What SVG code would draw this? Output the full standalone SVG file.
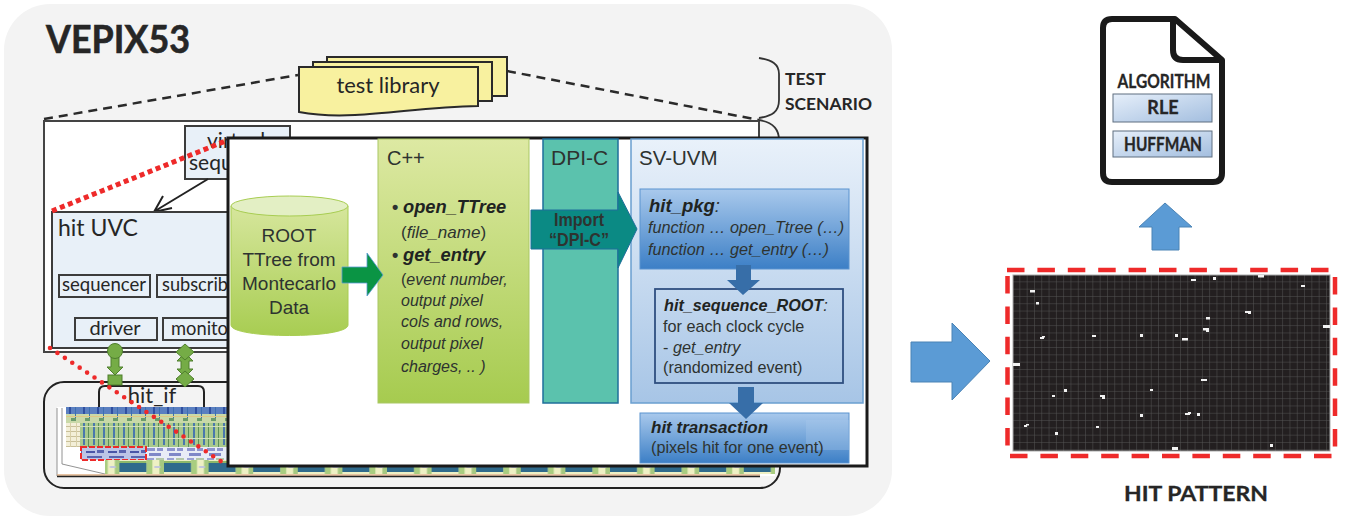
<svg xmlns="http://www.w3.org/2000/svg" width="1352" height="516" viewBox="0 0 1352 516">
<style>
.la{font-family:"Lato","Liberation Sans",sans-serif;fill:#262626}
.ar{font-family:"Liberation Sans",Arial,sans-serif;fill:#2e3330}
.b{font-weight:700}
.i{font-style:italic}
.bi{font-weight:700;font-style:italic;fill:#1f2422}
.m{text-anchor:middle}
.box{fill:#e8f0f8;stroke:#3c3c3c;stroke-width:2}
.sm{fill:none;stroke:#3c3c3c;stroke-width:2}
.sheet{fill:#f8f19f;stroke:#2a2a2a;stroke-width:2}
.grn{fill:#75ac46;stroke:#4f7f2d;stroke-width:1}
.hit{fill:#f2f2f2}
.blue{fill:url(#gBlue);stroke:#5b93cf;stroke-width:1}
.darr{fill:#376ea8}
.bigarr{fill:#5b9bd5;stroke:#4a83b5;stroke-width:1}
.algo{fill:url(#gAlgo);stroke:#5f6f80;stroke-width:1}
</style>
<defs>
<linearGradient id="gC" x1="0" y1="0" x2="0" y2="1"><stop offset="0" stop-color="#dde9a3"/><stop offset="1" stop-color="#a6cb4f"/></linearGradient>
<linearGradient id="gSv" x1="0" y1="0" x2="0" y2="1"><stop offset="0" stop-color="#e9f1fa"/><stop offset="1" stop-color="#a7c5e6"/></linearGradient>
<linearGradient id="gBlue" x1="0" y1="0" x2="0" y2="1"><stop offset="0" stop-color="#a9c9ec"/><stop offset="1" stop-color="#3c7fc6"/></linearGradient>
<linearGradient id="gAlgo" x1="0" y1="0" x2="1" y2="1"><stop offset="0" stop-color="#e6effa"/><stop offset="1" stop-color="#a3bedf"/></linearGradient>
<linearGradient id="gCyl" x1="0" y1="0" x2="0" y2="1"><stop offset="0" stop-color="#d6e69c"/><stop offset="1" stop-color="#a8cd52"/></linearGradient>
<pattern id="pGrid" x="1013" y="275" width="7.3" height="7.3" patternUnits="userSpaceOnUse"><path d="M7.3 0V7.3M0 7.3H7.3" fill="none" stroke="#555" stroke-width="1"/></pattern>
<pattern id="pBand" x="387" y="458" width="44.6" height="16" patternUnits="userSpaceOnUse"><rect width="44.6" height="16" fill="#eef0c4"/><rect x="27" width="6" height="16" fill="#a9cd80"/><rect x="40" width="4.600" height="16" fill="#a5c880"/><rect x="0" y="5" width="27" height="9" fill="#2f6a8c"/><rect x="0" y="3" width="27" height="2" fill="#8cb76a"/><rect x="35" y="8" width="6" height="2" fill="#c3c7dd"/></pattern>
<pattern id="pCols" x="80" y="423" width="10" height="24" patternUnits="userSpaceOnUse"><rect width="10" height="24" fill="#a8c98e"/><rect x="3" width="2" height="22" fill="#4a78ad"/><rect x="8" width="1" height="24" fill="#5d8f58"/><rect y="3" width="10" height="1" fill="#d2e0b8"/><rect y="15" width="10" height="1" fill="#d2e0b8"/></pattern>
<pattern id="pTop" x="66" y="407" width="14" height="16" patternUnits="userSpaceOnUse"><rect width="14" height="16" fill="#c9d9a8"/><rect width="14" height="7" fill="#5a7fc0"/><rect x="3" width="2" height="7" fill="#2f4fa0"/><rect x="9" width="1" height="12" fill="#3c6fb0"/><rect y="9" width="14" height="1" fill="#e1c785"/><rect x="5" y="11" width="5" height="3" fill="#6b9c6c"/></pattern>
<pattern id="pLow" x="146" y="447" width="20" height="15" patternUnits="userSpaceOnUse"><rect width="20" height="15" fill="#e8ecf6"/><rect x="1" y="1" width="8" height="3" fill="#8d94cf"/><rect x="11" y="1" width="6" height="3" fill="#8d94cf"/><rect x="3" y="6" width="12" height="3" fill="#7f88c8"/><rect x="1" y="11" width="7" height="3" fill="#9aa2d4"/><rect x="10" y="11" width="8" height="3" fill="#b4c8a8"/></pattern>
<pattern id="pTan" x="66" y="423" width="6" height="5" patternUnits="userSpaceOnUse"><rect width="6" height="5" fill="#f3efd8"/><rect y="3" width="6" height="1" fill="#c9c09a"/><rect x="4" width="1" height="5" fill="#d8cfa8"/></pattern>
<pattern id="pRed" x="84" y="449" width="22" height="11" patternUnits="userSpaceOnUse"><rect width="22" height="11" fill="#bcc4e6"/><rect x="2" y="2" width="9" height="2" fill="#4a55a8"/><rect x="13" y="1" width="7" height="3" fill="#5a64b0"/><rect x="3" y="7" width="15" height="2" fill="#5a64b0"/></pattern>
</defs>

<rect id="panel" x="4" y="4" width="888" height="512" rx="46" fill="#f3f3f3"/>
<text id="title" class="la b" x="46" y="53" font-size="38" textLength="144" lengthAdjust="spacingAndGlyphs" stroke="#262626" stroke-width="0.6">VEPIX53</text>

<g id="connectors">
<path d="M44 119L298 75M507 71L759 120" fill="none" stroke="#2a2a2a" stroke-width="2.5" stroke-dasharray="9 6"/>
<path d="M759 58C772 60 779 64 779 74V100C779 112 772 116 759 118" fill="none" stroke="#333" stroke-width="1.8"/>
</g>

<g id="test-library">
<rect class="sheet" x="327" y="57" width="180" height="39"/>
<rect class="sheet" x="313" y="62" width="179" height="39"/>
<path class="sheet" d="M299 67H478V106C430 107 395 113 355 115C335 116 315 115 299 112Z"/>
<text class="la m" x="388" y="93" font-size="22" textLength="103" lengthAdjust="spacingAndGlyphs">test library</text>
</g>

<g id="test-scenario-label">
<text class="la b" x="785" y="85" font-size="17.5">TEST</text>
<text class="la b" x="785" y="110" font-size="17.5" textLength="87" lengthAdjust="spacingAndGlyphs">SCENARIO</text>
</g>

<g id="scenario-box">
<rect x="44" y="121" width="715" height="231" fill="#fff" stroke="#444" stroke-width="2"/>
<path d="M759 120C772 122 779 128 779 140" fill="none" stroke="#333" stroke-width="1.8"/>
</g>

<g id="virtual-sequencer">
<rect class="box" x="185" y="126" width="105" height="53"/>
<text class="la" x="207" y="148" font-size="21">virtual</text>
<text class="la" x="189" y="170" font-size="21">sequ</text>
</g>

<g id="connectors-uvc">
<path d="M208 179L155 211M172 208L154 212L163 196" fill="none" stroke="#222" stroke-width="2"/>
</g>

<g id="hit-uvc">
<rect class="box" x="52" y="212" width="660" height="136"/>
<text class="la" x="58" y="236" font-size="23">hit UVC</text>
</g>
<g id="sequencer">
<rect class="sm" x="59" y="275" width="91" height="22"/>
<text class="la m" x="104" y="291" font-size="20" textLength="84" lengthAdjust="spacingAndGlyphs">sequencer</text>
</g>
<g id="subscriber">
<rect class="sm" x="157" y="275" width="90" height="22"/>
<text class="la" x="162" y="291" font-size="20" textLength="66" lengthAdjust="spacingAndGlyphs">subscrib</text>
</g>
<g id="driver">
<rect class="sm" x="75" y="318" width="82" height="22"/>
<text class="la m" x="115" y="335" font-size="20">driver</text>
</g>
<g id="monitor">
<rect class="sm" x="163" y="318" width="84" height="22"/>
<text class="la" x="171" y="335" font-size="20" textLength="57" lengthAdjust="spacingAndGlyphs">monito</text>
</g>

<g id="hit-if-box">
<rect x="44" y="382" width="736" height="106" rx="20" fill="none" stroke="#222" stroke-width="2"/>
<path d="M99 410V392Q99 386 105 386H198Q204 386 204 392V410" fill="#f3f3f3" stroke="#222" stroke-width="2"/>
<text class="la m" x="152" y="403" font-size="22">hit_if</text>
</g>

<g id="if-links">
<path class="grn" d="M111 357H119V367H123L115 375L107 367H111Z"/>
<circle class="grn" cx="115" cy="351" r="7.5"/>
<rect class="grn" x="108" y="375" width="14" height="10"/>
<path class="grn" d="M181 367V361H177L185 353L193 361H189V369H193L185 377L177 369H181Z"/>
<path class="grn" d="M185 344L194 352L185 360L176 352Z"/>
<path class="grn" d="M185 371L194 379L185 387L176 379Z"/>
</g>

<g id="chip">
<rect x="57" y="407" width="718" height="69" fill="#fff"/>
<path d="M57 408V476M62 408V464L105 474" fill="none" stroke="#777" stroke-width="0.8"/>
<rect x="66" y="407" width="165" height="16" fill="url(#pTop)"/>
<rect x="66" y="423" width="14" height="24" fill="url(#pTan)"/>
<rect x="80" y="423" width="150" height="24" fill="url(#pCols)"/>
<rect x="146" y="447" width="84" height="15" fill="url(#pLow)"/>
<rect x="81" y="447" width="65" height="13" fill="url(#pRed)" stroke="#ee2a2a" stroke-width="2" stroke-dasharray="6 2"/>
<rect x="105" y="460" width="670" height="14" fill="url(#pBand)"/>
<path d="M57 475H760" stroke="#e0b085" stroke-width="1.5"/>
<path d="M57 476.5H760" stroke="#222" stroke-width="1.5"/>
</g>

<g id="zoom-lines">
<path d="M52 211L228 140" fill="none" stroke="#ee2a2a" stroke-width="5" stroke-dasharray="5 3.6"/>
<path d="M50 348L228 466" fill="none" stroke="#ee2a2a" stroke-width="4.6" stroke-linecap="round" stroke-dasharray="0 8.9"/>
</g>

<g id="inset">
<rect x="228" y="138" width="639" height="328" fill="#fff" stroke="#1a1a1a" stroke-width="3"/>
</g>

<g id="root-data">
<path d="M231 206V325C231 339 348 339 348 325V206Z" fill="url(#gCyl)" stroke="#a8cd52" stroke-width="1"/>
<ellipse cx="289.500" cy="206" rx="58.500" ry="10" fill="#e3efc4" stroke="#a8cd52" stroke-width="1"/>
<text class="ar m" x="289" y="242" font-size="19">ROOT</text>
<text class="ar m" x="289" y="266" font-size="19">TTree from</text>
<text class="ar m" x="289" y="290" font-size="19">Montecarlo</text>
<text class="ar m" x="289" y="314" font-size="19">Data</text>
</g>

<g id="cpp">
<rect x="378" y="139" width="151" height="264" fill="url(#gC)" stroke="#a9c765" stroke-width="1"/>
<text class="ar" x="387" y="165" font-size="20">C++</text>
<text class="ar b" x="392" y="213" font-size="18">•</text>
<text class="ar bi" x="403" y="213" font-size="18.300">open_TTree</text>
<text class="ar" x="401" y="238" font-size="17">(<tspan class="i">file_name</tspan>)</text>
<text class="ar b" x="392" y="261" font-size="18">•</text>
<text class="ar bi" x="403" y="261" font-size="18.300">get_entry</text>
<text class="ar" x="401" y="285" font-size="16">(<tspan class="i">event number,</tspan></text>
<text class="ar i" x="401" y="306" font-size="16">output pixel</text>
<text class="ar i" x="401" y="327" font-size="16">cols and rows,</text>
<text class="ar i" x="401" y="349" font-size="16">output pixel</text>
<text class="ar i" x="401" y="372" font-size="16">charges, .. )</text>
</g>

<g id="dpi-c">
<rect x="543" y="139" width="75" height="264" fill="#5bc2ad" stroke="#1f6f9a" stroke-width="1.5"/>
<text class="ar" x="551" y="165" font-size="21">DPI-C</text>
</g>

<g id="sv-uvm">
<rect x="631" y="139" width="232" height="264" fill="url(#gSv)" stroke="#6a9fd0" stroke-width="1.5"/>
<text class="ar" x="639" y="165" font-size="20.500">SV-UVM</text>
</g>

<g id="hit-pkg">
<rect class="blue" x="640" y="189" width="209" height="80"/>
<text class="ar" x="649" y="212" font-size="18.500"><tspan class="bi">hit_pkg</tspan><tspan class="i">:</tspan></text>
<text class="ar i" x="648" y="233" font-size="16.200">function … open_Ttree (…)</text>
<text class="ar i" x="648" y="255" font-size="16.200">function … get_entry (…)</text>
</g>

<g id="hit-sequence-root">
<rect x="655" y="289" width="188" height="94" fill="none" stroke="#2f4f80" stroke-width="1.8"/>
<text class="ar" x="664" y="311" font-size="16.200"><tspan class="bi">hit_sequence_ROOT</tspan><tspan class="i">:</tspan></text>
<text class="ar" x="663" y="332" font-size="16.200">for each clock cycle</text>
<text class="ar" x="663" y="353" font-size="16.200">- <tspan class="i">get_entry</tspan></text>
<text class="ar" x="663" y="373" font-size="16.200">(randomized event)</text>
</g>

<g id="hit-transaction">
<rect class="blue" x="640" y="413" width="209" height="50"/>
<rect x="806" y="420" width="43" height="30" fill="#a9c9ec" opacity="0.35"/>
<text class="ar bi" x="651" y="433" font-size="17">hit transaction</text>
<text class="ar" x="651" y="453" font-size="16.200">(pixels hit for one event)</text>
</g>

<g id="connectors-inset">
<path d="M342 267H367V253L383 275L367 296V283H342Z" fill="#0a9444" stroke="#5b9bd5" stroke-width="0.8"/>
<path d="M531 210H618V192L637 229L618 268V249H531Z" fill="#0b8a84" stroke="#1f6f9a" stroke-width="1"/>
<path class="darr" d="M736 265H751V280H760L743 295L727 280H736Z"/>
<path class="darr" d="M738 387H754V403H763L746 419L729 403H738Z"/>
<text class="ar b m" x="579" y="226" font-size="18" fill="#14302e" textLength="50" lengthAdjust="spacingAndGlyphs">Import</text>
<text class="ar b m" x="579" y="246" font-size="18" fill="#14302e" textLength="60" lengthAdjust="spacingAndGlyphs">“DPI-C”</text>
</g>

<g id="big-arrow"><path class="bigarr" d="M911 342H952V323L990 361L952 400V382H911Z"/></g>
<g id="up-arrow"><path class="bigarr" d="M1165 203L1192 227H1179V250H1152V227H1139Z"/></g>

<g id="algorithm-doc">
<path d="M1112 19H1175L1222 60V173Q1222 182 1213 182H1112Q1103 182 1103 173V28Q1103 19 1112 19Z" fill="#fff" stroke="#1a1a1a" stroke-width="6" stroke-linejoin="round"/>
<path d="M1173 19V50Q1173 60 1183 60H1222" fill="none" stroke="#1a1a1a" stroke-width="6"/>
<text class="la b m" x="1164" y="88" font-size="18" textLength="93" lengthAdjust="spacingAndGlyphs" stroke="#262626" stroke-width="0.3">ALGORITHM</text>
</g>
<g id="rle">
<rect class="algo" x="1113" y="94" width="99" height="28"/>
<text class="la b m" x="1163" y="114" font-size="18" stroke="#262626" stroke-width="0.3">RLE</text>
</g>
<g id="huffman">
<rect class="algo" x="1113" y="131" width="99" height="26"/>
<text class="la b m" x="1163" y="151" font-size="18" textLength="78" lengthAdjust="spacingAndGlyphs" stroke="#262626" stroke-width="0.3">HUFFMAN</text>
</g>

<g id="hit-pattern">
<rect x="1013" y="275" width="317" height="176" fill="#231f20"/>
<rect x="1013" y="275" width="317" height="176" fill="url(#pGrid)" stroke="#aaa" stroke-width="1"/>
<g class="hit">
<rect x="1030" y="290" width="5" height="2.500"/><rect x="1036" y="302" width="3" height="2.500"/><rect x="1040" y="337" width="4" height="2"/><rect x="1042" y="336" width="3" height="1.500"/><rect x="1092" y="335" width="4" height="2"/>
<rect x="1140" y="334" width="3" height="3"/><rect x="1175" y="334" width="3" height="3"/><rect x="1182" y="338" width="6" height="2.500"/><rect x="1203" y="328" width="6" height="2.500"/><rect x="1206" y="328" width="3" height="4"/>
<rect x="1206" y="317" width="4" height="2.500"/><rect x="1245" y="311" width="3" height="2"/><rect x="1248" y="311" width="3" height="3"/><rect x="1191" y="279" width="5" height="2"/><rect x="1213" y="277" width="3" height="3"/>
<rect x="1258" y="275" width="6" height="2.500"/><rect x="1301" y="285" width="4" height="2"/><rect x="1323" y="325" width="7" height="3"/><rect x="1013" y="363" width="7" height="3"/><rect x="1201" y="379" width="6" height="2"/>
<rect x="1064" y="389" width="3" height="3"/><rect x="1052" y="395" width="3" height="2"/><rect x="1100" y="395" width="5" height="2"/><rect x="1102" y="396" width="3" height="3"/><rect x="1150" y="389" width="3" height="2"/>
<rect x="1140" y="414" width="3" height="3"/><rect x="1185" y="413" width="5" height="2"/><rect x="1188" y="412" width="3" height="2"/><rect x="1197" y="413" width="3" height="3"/><rect x="1024" y="425" width="3" height="2"/><rect x="1026" y="424" width="3" height="1.500"/>
<rect x="1055" y="432" width="3" height="3"/><rect x="1096" y="426" width="3" height="2"/><rect x="1270" y="444" width="3" height="3"/><rect x="1172" y="447" width="6" height="3"/>
</g>
<path d="M1007 270H1337" fill="none" stroke="#ee2a2a" stroke-width="4.500" stroke-dasharray="17.500 12.900"/>
<path d="M1010 456H1335" fill="none" stroke="#ee2a2a" stroke-width="4.500" stroke-dasharray="17.500 12.900"/>
<path d="M1007.500 276V455" fill="none" stroke="#ee2a2a" stroke-width="4.500" stroke-dasharray="17.500 12.900"/>
<path d="M1335 277V455" fill="none" stroke="#ee2a2a" stroke-width="4.500" stroke-dasharray="17.500 12.900"/>
</g>
<text id="hit-pattern-label" class="la b m" x="1196" y="501" font-size="21" textLength="144" lengthAdjust="spacingAndGlyphs" stroke="#262626" stroke-width="0.3">HIT PATTERN</text>
</svg>
